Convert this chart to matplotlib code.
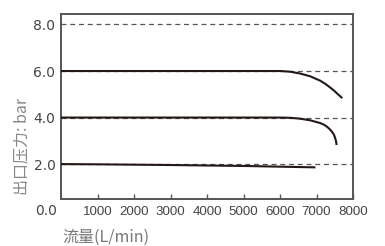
import numpy as np
import matplotlib
matplotlib.use("Agg")
import matplotlib.pyplot as plt

# flow (L/min) vs outlet pressure (bar)
flow_6 = [0, 2000, 4000, 5500, 6006, 6281, 6556, 6832, 7107, 7250, 7383, 7480, 7567, 7640, 7705]
pres_6 = [6.0, 6.0, 6.0, 6.0, 6.0, 5.97, 5.89, 5.77, 5.58, 5.44, 5.28, 5.16, 5.03, 4.93, 4.83]

flow_4 = [0, 2000, 4000, 5500, 6000, 6281, 6556, 6832, 7107, 7220, 7291, 7370, 7429, 7475, 7502, 7525, 7540, 7550]
pres_4 = [4.0, 4.0, 4.0, 4.0, 4.0, 3.99, 3.95, 3.88, 3.76, 3.68, 3.60, 3.49, 3.38, 3.27, 3.16, 3.05, 2.94, 2.82]

flow_2 = [0, 1000, 3000, 5000, 6970]
pres_2 = [2.0, 1.99, 1.96, 1.92, 1.86]

xticks = [1000, 2000, 3000, 4000, 5000, 6000, 7000, 8000]
yticks = [2.0, 4.0, 6.0, 8.0]

plt.rcParams['font.family'] = ['DejaVu Sans']

fig = plt.figure(figsize=(3.85, 2.46), dpi=100)
ax = fig.add_axes([61/385, 1-199/246, 292/385, 185/246])

line_col = '#231815'
for fx, py in [(flow_6, pres_6), (flow_4, pres_4), (flow_2, pres_2)]:
    ax.plot(fx, py, color=line_col, lw=1.5, solid_capstyle='butt',
            solid_joinstyle='round', zorder=3)

for yv in yticks:
    ax.axhline(yv, color='#555555', lw=0.9, ls=(0, (4, 3)), zorder=2)

ax.set_xlim(0, 8000)
ax.set_ylim(0.5, 8.45)
ax.set_xticks(xticks)
ax.set_xticklabels([str(v) for v in xticks], family=['Liberation Sans'],
                   fontsize=9.6, color='#444444')
ax.set_yticks(yticks)
ax.set_yticklabels(['%.1f' % v for v in yticks], fontsize=10, color='#444444')
ax.tick_params(axis='x', direction='in', length=3.5, width=1, color='#555555', pad=5)
ax.tick_params(axis='y', length=0, pad=4)
ax.text(-0.012, 0.0, '0.0', transform=ax.get_yaxis_transform(), ha='right',
        va='center', fontsize=10, color='#444444', clip_on=False)

for s in ax.spines.values():
    s.set_color('#555555')
    s.set_linewidth(1.4)

fig.text(22/385, 1-146/246, '出口压力: bar', rotation=90, ha='center', va='center',
         fontsize=11.5, color='#888888', family=['Noto Sans CJK SC', 'DejaVu Sans'])
fig.text(62/385, 1-237/246, '流量(L/min)', ha='left', va='center',
         fontsize=11.5, color='#777777', family=['Noto Sans CJK SC', 'DejaVu Sans'])

fig.savefig('out.png', dpi=100)
